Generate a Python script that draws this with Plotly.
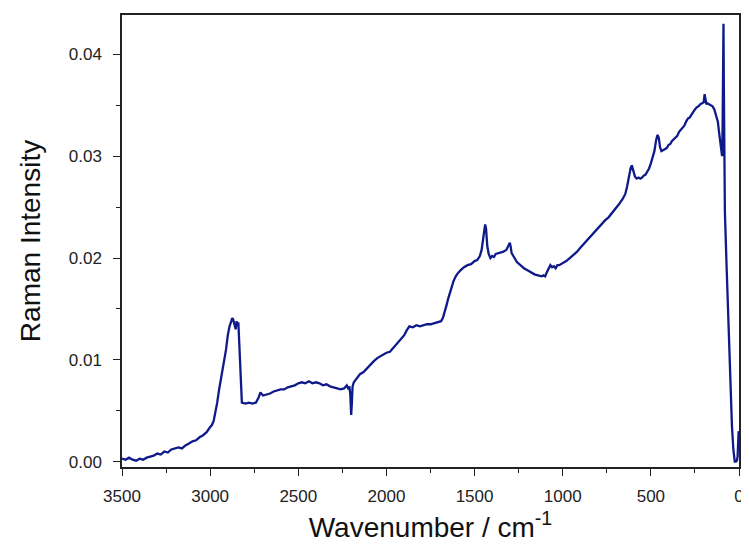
import plotly.graph_objects as go

wavenumber = [3500, 3480, 3460, 3440, 3420, 3400, 3380, 3360, 3340, 3320, 3300, 3280, 3260, 3240, 3220, 3200,
              3180, 3160, 3140, 3120, 3100, 3080, 3060, 3040, 3020, 3000, 2990, 2980, 2970, 2960, 2950,
              2940, 2930, 2920, 2910, 2900, 2890, 2880, 2875, 2870, 2865, 2860, 2855, 2850, 2845, 2840,
              2835, 2830, 2825, 2820, 2800, 2780, 2760, 2740, 2725, 2715, 2700, 2680, 2660, 2640, 2620,
              2600, 2580, 2560, 2540, 2520, 2500, 2480, 2460, 2440, 2420, 2400, 2380, 2360, 2340, 2320,
              2300, 2280, 2260, 2240, 2225, 2215, 2210, 2205, 2200, 2196, 2192, 2185, 2175, 2165, 2150,
              2130, 2110, 2090, 2070, 2050, 2030, 2010, 2000, 1980, 1960, 1940, 1920, 1900, 1885, 1870,
              1850, 1830, 1810, 1790, 1770, 1750, 1730, 1710, 1690, 1680, 1670, 1660, 1650, 1640, 1630,
              1620, 1610, 1600, 1580, 1560, 1540, 1520, 1500, 1485, 1470, 1460, 1452, 1445, 1440, 1435,
              1428, 1420, 1410, 1400, 1390, 1380, 1360, 1340, 1320, 1310, 1300, 1295, 1290, 1280, 1270,
              1260, 1240, 1220, 1200, 1180, 1160, 1140, 1120, 1110, 1100, 1090, 1080, 1070, 1060, 1050,
              1040, 1030, 1020, 1000, 980, 960, 940, 920, 900, 880, 860, 840, 820, 800, 780, 760, 740,
              720, 700, 680, 660, 645, 635, 625, 615, 608, 600, 590, 580, 570, 560, 550, 540, 530, 520,
              510, 500, 490, 480, 470, 462, 455, 448, 440, 430, 420, 410, 400, 390, 380, 370, 360, 350,
              340, 330, 320, 310, 300, 290, 280, 270, 260, 250, 240, 230, 220, 210, 200, 195, 190, 185,
              180, 170, 160, 150, 140, 130, 120, 112, 105, 100, 96, 93, 90, 88, 86, 84, 82, 80, 70, 60,
              50, 40, 32, 28, 24, 18, 12, 8, 5, 2, 0]
intensity = [0.0003, 0.0002, 0.0004, 0.0002, 0.0001, 0.0003, 0.0002, 0.0004, 0.0005, 0.0006, 0.0008, 0.0007, 0.0010, 0.0009, 0.0012, 0.0013,
             0.0014, 0.0013, 0.0016, 0.0018, 0.0020, 0.0021, 0.0024, 0.0026, 0.0029, 0.0034, 0.0036, 0.0040, 0.0048, 0.0058, 0.0070,
             0.0080, 0.0088, 0.0096, 0.0110, 0.0124, 0.0133, 0.0138, 0.0141, 0.0140, 0.0137, 0.0134, 0.0130, 0.0138, 0.0133, 0.0137,
             0.0118, 0.0085, 0.0064, 0.0058, 0.0057, 0.0058, 0.0057, 0.0058, 0.0063, 0.0068, 0.0065, 0.0066, 0.0067, 0.0069, 0.0070,
             0.0071, 0.0071, 0.0073, 0.0074, 0.0075, 0.0077, 0.0078, 0.0077, 0.0079, 0.0077, 0.0078, 0.0077, 0.0075, 0.0076, 0.0074,
             0.0073, 0.0072, 0.0071, 0.0072, 0.0075, 0.0071, 0.0074, 0.0066, 0.0046, 0.0058, 0.0074, 0.0078, 0.0080, 0.0083, 0.0086,
             0.0088, 0.0092, 0.0096, 0.0099, 0.0102, 0.0104, 0.0106, 0.0107, 0.0108, 0.0112, 0.0116, 0.0120, 0.0124, 0.0129, 0.0133,
             0.0132, 0.0134, 0.0133, 0.0134, 0.0135, 0.0135, 0.0136, 0.0137, 0.0138, 0.0141, 0.0146, 0.0153, 0.0160, 0.0166, 0.0172,
             0.0177, 0.0181, 0.0184, 0.0188, 0.0191, 0.0193, 0.0194, 0.0197, 0.0198, 0.0202, 0.0208, 0.0218, 0.0230, 0.0233, 0.0229,
             0.0212, 0.0204, 0.0200, 0.0202, 0.0201, 0.0204, 0.0205, 0.0206, 0.0208, 0.0211, 0.0215, 0.0211, 0.0205, 0.0202, 0.0199,
             0.0196, 0.0193, 0.0190, 0.0188, 0.0186, 0.0184, 0.0183, 0.0182, 0.0183, 0.0182, 0.0186, 0.0190, 0.0193, 0.0191, 0.0192,
             0.0190, 0.0193, 0.0193, 0.0195, 0.0197, 0.0200, 0.0203, 0.0206, 0.0210, 0.0214, 0.0218, 0.0222, 0.0226, 0.0229, 0.0233, 0.0237, 0.0240,
             0.0244, 0.0249, 0.0253, 0.0258, 0.0263, 0.0270, 0.0280, 0.0288, 0.0291, 0.0285, 0.0280, 0.0278, 0.0279, 0.0278, 0.0279, 0.0281, 0.0282,
             0.0285, 0.0288, 0.0293, 0.0298, 0.0305, 0.0316, 0.0321, 0.0318, 0.0309, 0.0305, 0.0306, 0.0307, 0.0308, 0.0311, 0.0312, 0.0315, 0.0317, 0.0318,
             0.0320, 0.0324, 0.0326, 0.0327, 0.0330, 0.0334, 0.0337, 0.0338, 0.0341, 0.0344, 0.0346, 0.0348, 0.0349, 0.0351, 0.0352, 0.0353, 0.0361, 0.0353,
             0.0351, 0.0352, 0.0351, 0.0350, 0.0349, 0.0346, 0.0341, 0.0334, 0.0322, 0.0310, 0.0302, 0.0300, 0.0330, 0.0395, 0.0430, 0.0370, 0.0312, 0.0298, 0.0245, 0.0190,
             0.0135, 0.0080, 0.0035, 0.0012, 0.0003, 0.0000, 0.0000, 0.0001, 0.0005, 0.0015, 0.0030]

x_ticks = [3500, 3000, 2500, 2000, 1500, 1000, 500, 0]
x_ticklabels = ["3500", "3000", "2500", "2000", "1500", "1000", "500", "0"]
x_minor = [3250, 2750, 2250, 1750, 1250, 750, 250]
y_ticks = [0.0, 0.01, 0.02, 0.03, 0.04]
y_ticklabels = ["0.00", "0.01", "0.02", "0.03", "0.04"]
y_minor = [0.005, 0.015, 0.025, 0.035]

fig = go.Figure()
fig.add_trace(go.Scatter(
    x=wavenumber, y=intensity, mode="lines",
    line=dict(color="#0f1a8a", width=2.3),
    showlegend=False,
))

axis_font = dict(family="Liberation Sans, Arial, sans-serif", size=17, color="#222222")
title_font = dict(family="Liberation Sans, Arial, sans-serif", size=28, color="#111111")

fig.update_xaxes(
    range=[3500, 0], tickmode="array", tickvals=x_ticks, ticktext=x_ticklabels,
    ticks="outside", ticklen=7, tickwidth=1.3, tickcolor="#222222",
    ticklabelstandoff=6,
    minor=dict(tickmode="array", tickvals=x_minor,
               ticks="outside", ticklen=4, tickwidth=1.3, tickcolor="#222222"),
    showline=True, linecolor="#222222", linewidth=1.5, mirror=True,
    showgrid=False, zeroline=False, tickfont=axis_font,
    title=dict(text="Wavenumber / cm<sup>-1</sup>", font=title_font, standoff=12),
)
fig.update_yaxes(
    range=[-0.00052, 0.04387], tickmode="array", tickvals=y_ticks, ticktext=y_ticklabels,
    ticks="outside", ticklen=7, tickwidth=1.3, tickcolor="#222222",
    ticklabelstandoff=8,
    minor=dict(tickmode="array", tickvals=y_minor,
               ticks="outside", ticklen=4, tickwidth=1.3, tickcolor="#222222"),
    showline=True, linecolor="#222222", linewidth=1.5, mirror=True,
    showgrid=False, zeroline=False, tickfont=axis_font,
    title=dict(text="Raman Intensity", font=title_font, standoff=20),
)
fig.update_layout(
    width=741, height=541,
    margin=dict(l=114, r=8, t=5, b=82),
    paper_bgcolor="white", plot_bgcolor="white",
)
fig.write_html("out.html")
